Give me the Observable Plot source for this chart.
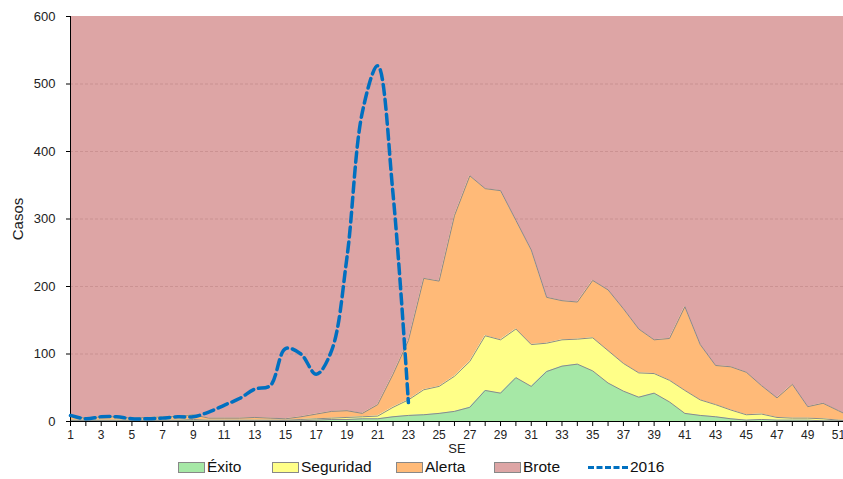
<!DOCTYPE html>
<html><head><meta charset="utf-8">
<script src="https://cdn.jsdelivr.net/npm/d3@7"></script>
<script src="https://cdn.jsdelivr.net/npm/@observablehq/plot@0.6"></script>
<style>
body{margin:0;background:#fff;font-family:"Liberation Sans",Arial,sans-serif;}
#chart svg{display:block;}
#legend{display:flex;align-items:center;height:24px;font-size:15.5px;color:#111;padding-left:178px;}
.it{display:flex;align-items:center;}
.sw{width:25px;height:9px;border:1px solid #888;margin-right:2px;flex:none;}
.ln{width:40px;height:0;border-top:3.5px dashed #0070C0;margin-right:2px;flex:none;}
</style></head><body>
<div id="chart"></div><div id="legend"></div>
<script>
const weeks = d3.range(1, 53);
const exito = [1,1,1,1,1,1,1,1,1,1,1,1,1,1,1,1,2,3,3,4,4,7,9,10,12,15,21,46,42,65,52,74,82,85,75,57,45,36,42,29,12,9,7,4,2,3,2,2,2,1,1,1];
const seguridad = [2,2,2,2,2,2,2,2,3,2,2,2,2,2,2,3,4,5,6,7,8,21,32,47,52,67,89,127,121,137,114,116,121,122,124,105,86,72,71,61,46,32,25,17,10,11,6,5,5,4,2,1];
const alerta = [8,5,7,7,5,6,7,8,10,5,5,5,6,5,4,7,11,15,16,12,25,70,120,212,208,305,364,345,342,298,254,184,179,177,209,195,167,137,121,123,170,114,83,81,73,53,35,55,22,27,16,5];
const brote = weeks.map(() => 600);
const weeks2016 = d3.range(1, 24);
const casos2016 = [9,4,7,7,4,4,5,7,7,14,24,34,48,53,108,100,70,105,243,458,527,337,28];
const yTicks = [0,100,200,300,400,500,600];
const gridTicks = [100,200,300,400,500];
const xTicks = d3.range(1, 52);
const legendNames = ["Éxito", "Seguridad", "Alerta", "Brote", "2016"];

const colors = {exito:"#A6E8A6", seguridad:"#FFFF88", alerta:"#FFBA78", brote:"#DDA5A5", line:"#0070C0"};

const data = weeks.map((w,i)=>({week:w, exito:exito[i], seguridad:seguridad[i], alerta:alerta[i], brote:brote[i]}));
const d2016 = weeks2016.map((w,i)=>({week:w, casos:casos2016[i]}));

const chart = Plot.plot({
  width: 843, height: 455,
  marginLeft: 70, marginRight: 0, marginTop: 16, marginBottom: 34,
  style: {fontFamily: "Liberation Sans, Arial, sans-serif", fontSize: "13px", color: "#222", background: "#fff"},
  x: {domain: [1, 51.33]},
  y: {domain: [0, 600]},
  marks: [
    Plot.areaY(data, {x:"week", y1:"alerta", y2:"brote", fill: colors.brote, clip: true}),
    Plot.ruleY(gridTicks, {stroke:"#b98080", strokeOpacity:0.5, strokeDasharray:"3,2", strokeWidth:1}),
    Plot.areaY(data, {x:"week", y1:"seguridad", y2:"alerta", fill: colors.alerta, clip: true}),
    Plot.areaY(data, {x:"week", y1:"exito", y2:"seguridad", fill: colors.seguridad, clip: true}),
    Plot.areaY(data, {x:"week", y1:0, y2:"exito", fill: colors.exito, clip: true}),
    Plot.lineY(data, {x:"week", y:"exito", stroke:"#8a8a8a", strokeWidth:1, clip: true}),
    Plot.lineY(data, {x:"week", y:"seguridad", stroke:"#8a8a8a", strokeWidth:1, clip: true}),
    Plot.lineY(data, {x:"week", y:"alerta", stroke:"#8a8a8a", strokeWidth:1, clip: true}),
    Plot.axisY({ticks: yTicks, tickSize: 4, tickPadding: 11, label: "Casos", labelAnchor: "center", labelOffset: 58, labelArrow: false, fontSize: 13, stroke: "#000"}),
    Plot.axisX({ticks: xTicks, tickSize: 5, tickPadding: 4, tickFormat: d => d % 2 ? String(d) : "", label: "SE", labelAnchor: "center", labelOffset: 31, labelArrow: false, fontSize: 12, stroke: "#000"}),
    Plot.ruleY([0], {stroke:"#000", strokeWidth:1}),
    Plot.ruleX([1], {stroke:"#000", strokeWidth:1}),
    Plot.lineY(d2016, {x:"week", y:"casos", stroke: colors.line, strokeWidth: 3.5, strokeDasharray: "10,5", curve: "catmull-rom"})
  ]
});
document.getElementById("chart").appendChild(chart);
chart.querySelectorAll("g[aria-label='y-axis label'] text").forEach(t => t.setAttribute("font-size", "15"));
chart.querySelectorAll("g[aria-label='x-axis label'] text").forEach(t => t.setAttribute("font-size", "13"));

const legendFills = [colors.exito, colors.seguridad, colors.alerta, colors.brote, null];
const legendWidths = [94, 124, 98, 94, null];
const lg = document.getElementById("legend");
legendNames.forEach((name, i) => {
  const d = document.createElement("div"); d.className = "it";
  if (legendWidths[i]) d.style.width = legendWidths[i] + "px";
  const s = document.createElement("span"); s.className = legendFills[i] ? "sw" : "ln";
  if (legendFills[i]) s.style.background = legendFills[i];
  d.appendChild(s);
  const t = document.createElement("span"); t.textContent = name; t.style.whiteSpace = "nowrap"; d.appendChild(t);
  lg.appendChild(d);
});
</script>
</body></html>
